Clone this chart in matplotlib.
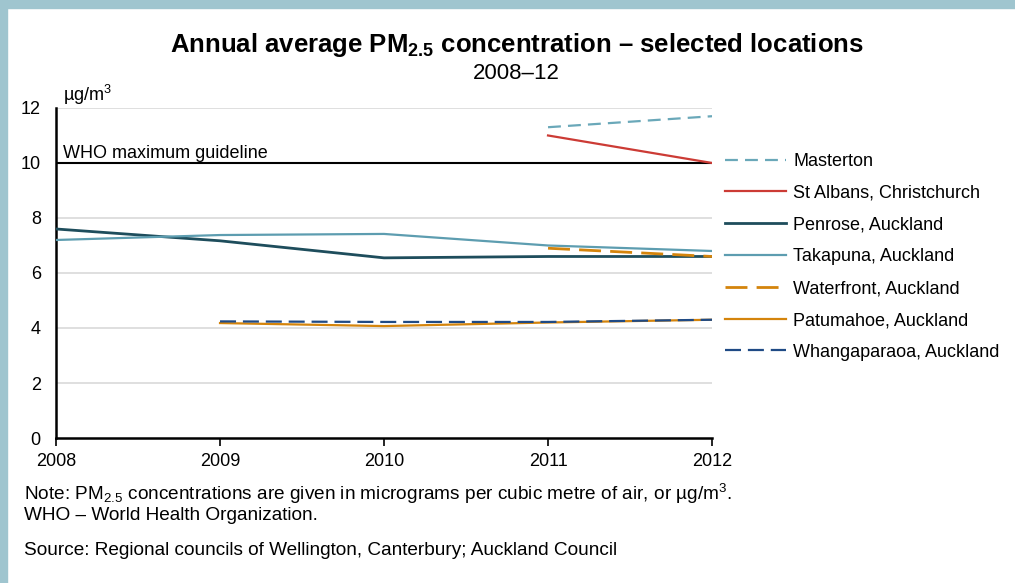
import matplotlib
matplotlib.use("Agg")
import matplotlib.pyplot as plt
from matplotlib.patches import Rectangle

plt.rcParams['font.family'] = ['Liberation Sans', 'DejaVu Sans']
plt.rcParams['mathtext.fontset'] = 'custom'
plt.rcParams['mathtext.rm'] = 'Liberation Sans'
plt.rcParams['mathtext.it'] = 'Liberation Sans:italic'
plt.rcParams['mathtext.bf'] = 'Liberation Sans:bold'

# data (ug/m3)
years = [2008, 2009, 2010, 2011, 2012]
masterton_yrs = [2011, 2012]
masterton = [11.3, 11.7]
st_albans_yrs = [2011, 2012]
st_albans = [11.0, 10.0]
penrose = [7.6, 7.17, 6.55, 6.6, 6.6]
takapuna = [7.2, 7.38, 7.42, 7.0, 6.8]
waterfront_yrs = [2011, 2012]
waterfront = [6.9, 6.6]
patumahoe_yrs = [2009, 2010, 2011, 2012]
patumahoe = [4.18, 4.07, 4.2, 4.3]
whanga_yrs = [2009, 2010, 2011, 2012]
whanga = [4.24, 4.22, 4.22, 4.3]
who_limit = 10

fig = plt.figure(figsize=(10.15, 5.83), dpi=100)
ax = fig.add_axes([0.0552, 0.2487, 0.6463, 0.5661])

# light blue frame on top and left
border = '#9fc5cf'
fig.patches.append(Rectangle((0, 1 - 8 / 583), 1, 8 / 583, transform=fig.transFigure,
                             color=border, zorder=0))
fig.patches.append(Rectangle((0, 0), 7 / 1015, 1, transform=fig.transFigure,
                             color=border, zorder=0))

for y in [2, 4, 6, 8, 12]:
    ax.axhline(y, color='#d9d9d9', lw=1.2, zorder=1)
ax.axhline(who_limit, color='black', lw=1.5, zorder=2)

lw = 1.6
ax.plot(masterton_yrs, masterton, color='#6aa8b9', lw=lw, dashes=(5.8, 3.2), label='Masterton', zorder=3)
ax.plot(st_albans_yrs, st_albans, color='#cc3b35', lw=lw, label='St Albans, Christchurch', zorder=3)
ax.plot(years, penrose, color='#1e4d5c', lw=2, label='Penrose, Auckland', zorder=3)
ax.plot(years, takapuna, color='#5d9db0', lw=lw, label='Takapuna, Auckland', zorder=3)
ax.plot(waterfront_yrs, waterfront, color='#d4840c', lw=2, dashes=(7.9, 3.3), label='Waterfront, Auckland', zorder=4)
ax.plot(patumahoe_yrs, patumahoe, color='#d4840c', lw=lw, label='Patumahoe, Auckland', zorder=3)
ax.plot(whanga_yrs, whanga, color='#1f4a85', lw=lw, dashes=(7.2, 3.1), label='Whangaparaoa, Auckland', zorder=4)

ax.set_xlim(2008, 2012)
ax.set_ylim(0, 12)
ax.set_xticks(years)
ax.set_yticks([0, 2, 4, 6, 8, 10, 12])
ax.tick_params(axis='y', length=0, labelsize=13, pad=11)
ax.tick_params(axis='x', length=6, width=1.2, direction='out', labelsize=13, pad=5)
for s in ['top', 'right']:
    ax.spines[s].set_visible(False)
ax.spines['left'].set_linewidth(1.8)
ax.spines['bottom'].set_linewidth(1.8)

ytr = ax.get_yaxis_transform()
ax.text(0.01, 12.05, 'µg/m$^3$', fontsize=13, ha='left', va='bottom', transform=ytr)
ax.text(0.01, 10.05, 'WHO maximum guideline', fontsize=13, ha='left', va='bottom', transform=ytr)

fig.text(0.509, 0.922, 'Annual average PM$_{\\mathbf{2.5}}$ concentration \u2013 selected locations',
         fontsize=18.5, fontweight='bold', ha='center', va='center')
fig.text(0.509, 0.874, '2008\u201312', fontsize=16, ha='center', va='center')

fig.legend(loc='upper left', bbox_to_anchor=(0.707, 0.750), frameon=False, fontsize=13,
           handlelength=3.4, labelspacing=0.82, handletextpad=0.4, borderaxespad=0)

fig.text(0.024, 0.152, 'Note: PM$_{2.5}$ concentrations are given in micrograms per cubic metre of air, or µg/m$^3$.',
         fontsize=13.7, ha='left', va='center')
fig.text(0.024, 0.115, 'WHO \u2013 World Health Organization.', fontsize=13.7, ha='left', va='center')
fig.text(0.024, 0.055, 'Source: Regional councils of Wellington, Canterbury; Auckland Council',
         fontsize=13.7, ha='left', va='center')

fig.savefig('out.png', dpi=100)
